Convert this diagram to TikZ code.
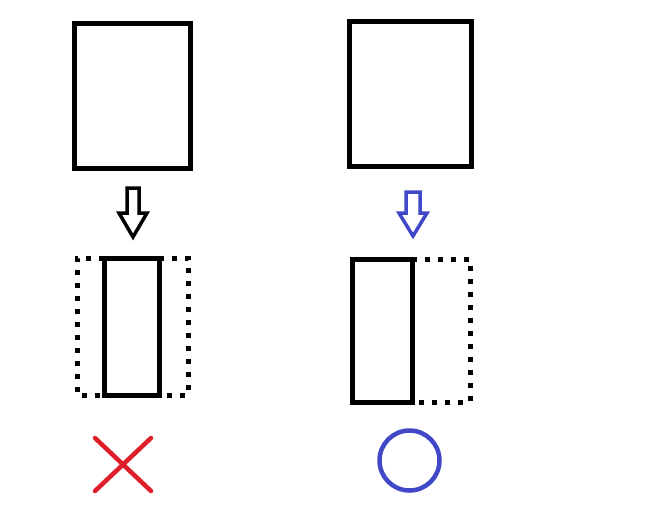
\documentclass[tikz,border=0pt]{standalone}
\usepackage{tikz}
\definecolor{markblue}{RGB}{64,72,200}
\definecolor{markred}{RGB}{222,30,42}

\begin{document}
\begin{tikzpicture}[x=1pt,y=-1pt,line width=5pt]
\useasboundingbox (0,0) rectangle (671,517);
% left column
\draw (74.5,23.5) rectangle (190.5,168.5);
\draw[line width=3.5pt,line join=miter] (127,188)--(139,188)--(139,213)--(147,213)--(133,237)--(119,213)--(127,213)--cycle;
\draw[dash pattern=on 5pt off 8pt] (104,258)--(77,258)--(77,395)--(104,395);
\draw[dash pattern=on 5pt off 8pt] (159,258)--(188,258)--(188,395)--(159,395);
\draw (104,258) rectangle (159,395);
\draw[markred,line width=4.5pt,line cap=round] (95,438)--(151,491);
\draw[markred,line width=4.5pt,line cap=round] (151,438)--(95,491);
% right column
\draw (349.5,21.5) rectangle (471.5,166.5);
\draw[markblue,line width=3.5pt,line join=miter] (406,192)--(420,192)--(420,213)--(427,213)--(413,236)--(399,213)--(406,213)--cycle;
\draw[dash pattern=on 5pt off 8pt] (412,259)--(470,259)--(470,402)--(412,402);
\draw (352,259) rectangle (412,402);
\draw[markblue,line width=4.5pt] (409.5,460.5) circle (30);
\end{tikzpicture}
\end{document}
